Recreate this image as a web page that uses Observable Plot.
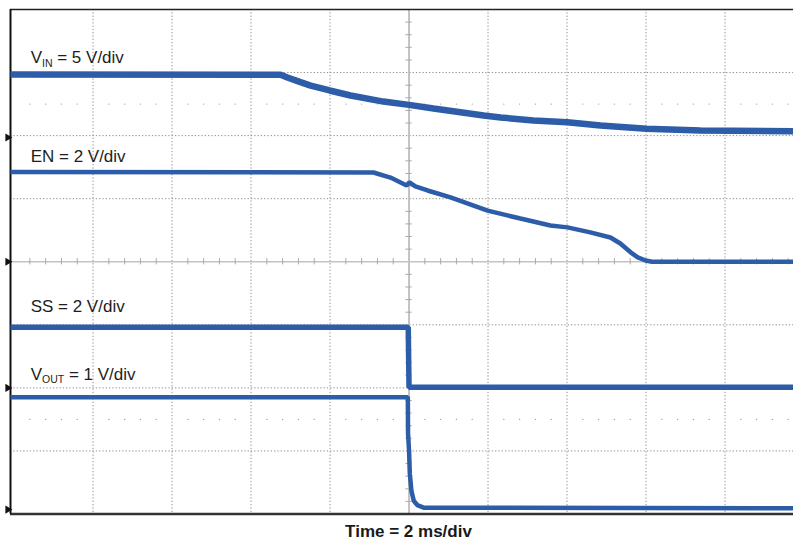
<!DOCTYPE html>
<html><head><meta charset="utf-8">
<script src="https://cdn.jsdelivr.net/npm/d3@7"></script>
<script src="https://cdn.jsdelivr.net/npm/@observablehq/plot@0.6"></script>
<style>
body{margin:0;background:#fff;width:793px;height:542px;overflow:hidden;position:relative;font-family:"Liberation Sans",Arial,sans-serif;}
#chart{position:absolute;left:0;top:0;}
#cap{position:absolute;left:0;width:817px;top:523px;text-align:center;font-weight:bold;font-size:17px;line-height:17px;color:#1a1a1a;}
</style></head><body>
<div id="chart"></div>
<div id="cap">Time = 2 ms/div</div>
<script>
// ---- data: time in ms (0 = screen centre), values in volts ----
const vinTime  = [-10.09, -3.25, -3.08, -2.75, -2.49, -2.01, -1.48, -0.65, 0, 0.62, 1.89, 2.32, 3.15, 4.01, 4.85, 6.01, 7.38, 9.73];
const vinVolts = [5.00, 4.98, 4.76, 4.39, 4.12, 3.73, 3.33, 2.85, 2.59, 2.30, 1.74, 1.59, 1.35, 1.21, 0.95, 0.69, 0.56, 0.50];

const enTime  = [-10.09, -0.90, -0.47, -0.06, 0.01, 0.16, 0.47, 1.05, 1.99, 2.82, 3.58, 4.01, 4.59, 5.10, 5.35, 5.61, 5.79, 5.99, 6.15, 9.73];
const enVolts = [2.85, 2.83, 2.67, 2.42, 2.52, 2.39, 2.26, 2.04, 1.62, 1.37, 1.15, 1.09, 0.93, 0.77, 0.58, 0.30, 0.14, 0.04, 0.0, 0.0];

const ssTime  = [-10.09, -0.02, 0.0, 9.73];
const ssVolts = [1.92, 1.92, 0.02, 0.02];

const voutTime  = [-10.09, -0.03, -0.025, 0.0, 0.02, 0.06, 0.12, 0.21, 0.37, 9.73];
const voutVolts = [1.78, 1.78, 1.21, 0.94, 0.57, 0.30, 0.14, 0.07, 0.03, 0.02];

// channel settings
const channels     = ["VIN", "EN", "SS", "VOUT"];
const voltsPerDiv  = [5, 2, 2, 1];
const groundDiv    = [1.97, 0, -2, -3.93];
const labelTexts   = ["VIN = 5 V/div", "EN = 2 V/div", "SS = 2 V/div", "VOUT = 1 V/div"];
const labelDiv     = [3.144, 1.574, -0.789, -1.875];
const screenMs     = [-10.09, 9.734];

const times = [vinTime, enTime, ssTime, voutTime];
const volts = [vinVolts, enVolts, ssVolts, voutVolts];
const widths = [6.5, 4.5, 5.5, 4.5];
const traceColor = "#2d5ca8";

const traces = channels.map((ch, i) => times[i].map((t, j) => ({ch, t, y: groundDiv[i] + volts[i][j] / voltsPerDiv[i]})));
const labels = labelTexts.map((text, i) => ({text, y: labelDiv[i]}));

// graticule
const majorX = [-8, -6, -4, -2, 2, 4, 6, 8];
const majorY = [-3, -2, -1, 1, 2, 3];
const minorX = d3.range(-10, 9.8, 0.4).map(v => Math.round(v * 10) / 10).filter(v => Math.abs(v % 2) > 1e-6);
const minorY = d3.range(-4, 4.01, 0.2).map(v => Math.round(v * 10) / 10).filter(v => Math.abs(v % 1) > 1e-6);
const dotRows = [2.5, -2.5].flatMap(y => minorX.map(x => ({x, y})));

const dotted = {stroke: "#8f8f8f", strokeWidth: 1, strokeDasharray: "1.3,2"};

const marks = [
  Plot.ruleX(majorX, dotted),
  Plot.ruleY(majorY, dotted),
  Plot.ruleX([0], {stroke: "#b4b4b4", strokeWidth: 1.6}),
  Plot.ruleY([0], {stroke: "#c4c4c4", strokeWidth: 1.4}),
  Plot.ruleY(minorY, {x1: -0.08, x2: 0.08, stroke: "#aaa", strokeWidth: 1}),
  Plot.ruleX(minorX, {y1: -0.05, y2: 0.05, stroke: "#aaa", strokeWidth: 1}),
  Plot.dot(dotRows, {x: "x", y: "y", r: 0.7, fill: "#a0a0a0", stroke: null}),
  Plot.ruleY([4], {stroke: "#222", strokeWidth: 1.6}),
  Plot.ruleY([-4], {stroke: "#333", strokeWidth: 2.4}),
  Plot.ruleX([screenMs[0]], {stroke: "#111", strokeWidth: 2}),
  ...traces.map((rows, i) => Plot.line(rows, {x: "t", y: "y", stroke: traceColor, strokeWidth: widths[i], strokeLinejoin: "miter", strokeLinecap: "butt"})),
  Plot.dot(groundDiv, {x: () => -10.16, y: d => d, symbol: "triangle", rotate: 90, r: 3, fill: "#111", stroke: null}),
  Plot.text(labels, {x: () => -9.58, y: "y", text: "text", textAnchor: "start", lineAnchor: "bottom", fontSize: 17, fill: "#1e1e1e"})
];

const plot = Plot.plot({
  width: 793, height: 518,
  marginLeft: 10, marginRight: 0, marginTop: 9, marginBottom: 4.5,
  x: {domain: screenMs, axis: null},
  y: {domain: [-4, 4], axis: null},
  style: {background: "white", fontFamily: "Liberation Sans, Arial, sans-serif", overflow: "visible"},
  marks
});
document.getElementById("chart").appendChild(plot);

// subscripts for V_IN and V_OUT
d3.select(plot).selectAll("text").each(function () {
  const s = this.textContent;
  const m = s.match(/^V(IN|OUT) (.*)$/);
  if (!m) return;
  const el = d3.select(this);
  el.text(null);
  el.append("tspan").text("V");
  el.append("tspan").attr("font-size", 10.5).attr("dy", 3.5).text(m[1]);
  el.append("tspan").attr("dy", -3.5).text(" " + m[2]);
});
</script>
</body></html>
